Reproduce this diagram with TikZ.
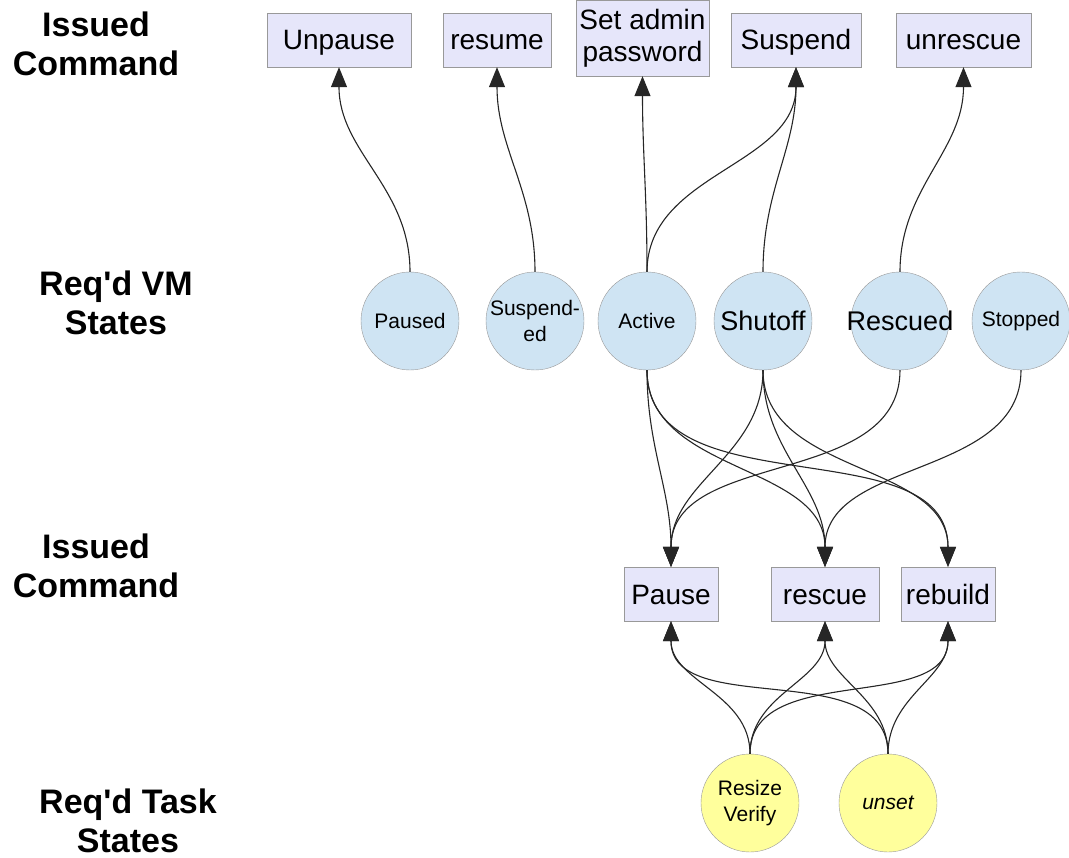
\documentclass[tikz,border=0pt]{standalone}
\usepackage{fontspec}
\setmainfont{Liberation Sans}
\usetikzlibrary{arrows.meta}
\definecolor{cmdfill}{HTML}{E6E6FA}
\definecolor{vmfill}{HTML}{CFE4F3}
\definecolor{taskfill}{HTML}{FFFF9C}
\definecolor{edgegray}{HTML}{999999}
\begin{document}
\begin{tikzpicture}[x=1pt,y=1pt,
  cmd/.style={draw=edgegray, fill=cmdfill, minimum height=54pt, inner sep=0pt, align=center, font=\fontsize{28}{32}\selectfont},
  cmdone/.style={cmd, text height=20pt, text depth=0pt},
  vm/.style={circle, draw=edgegray, fill=vmfill, minimum size=98pt, inner sep=-20pt, align=center, font=\fontsize{21}{26}\selectfont},
  task/.style={circle, draw=edgegray, fill=taskfill, minimum size=98pt, inner sep=-20pt, align=center, font=\fontsize{21}{26}\selectfont},
  lbl/.style={align=center, font=\bfseries\fontsize{34}{39}\selectfont},
  conn/.style={line width=1.1pt, draw=black!85, -{Triangle[width=16pt,length=20pt]}}
]
\useasboundingbox (0,0) rectangle (1069,-858);

% left labels
\node[lbl] (l1) at (96,-44) {Issued\\Command};
\node[lbl] (l2) at (116,-303) {Req\textquotesingle d VM\\States};
\node[lbl] (l3) at (96,-566) {Issued\\Command};
\node[lbl] (l4) at (128,-821) {Req\textquotesingle d Task\\States};

% top commands
\node[cmdone, minimum width=144pt] (unpause) at (339,-40) {Unpause};
\node[cmdone, minimum width=108pt] (resume) at (497,-40) {resume};
\node[cmd, minimum width=133pt, minimum height=76pt] (setpw) at (642.5,-38) {Set admin\\password};
\node[cmdone, minimum width=130pt] (suspend) at (796,-40) {Suspend};
\node[cmdone, minimum width=135pt] (unrescue) at (963.5,-40) {unrescue};

% VM states
\node[vm] (paused) at (410,-321) {Paused};
\node[vm] (suspended) at (535,-321) {Suspend-\\ed};
\node[vm] (active) at (647,-321) {Active};
\node[vm, font=\fontsize{27}{30}\selectfont] (shutoff) at (763,-321) {Shutoff};
\node[vm, font=\fontsize{27}{30}\selectfont] (rescued) at (900,-321) {Rescued};
\node[vm] (stopped) at (1021,-321) {Stopped};

% lower commands
\node[cmdone, minimum width=94pt] (pause) at (671,-594) {Pause};
\node[cmdone, minimum width=108pt] (rescue) at (825,-594) {rescue};
\node[cmdone, minimum width=94pt] (rebuild) at (948,-594) {rebuild};

% task states
\node[task] (resize) at (750,-803) {Resize\\Verify};
\node[task] (unset) at (888,-803) {\itshape unset};

% VM states -> top commands
\draw[conn] (paused.north) to[out=90,in=-90] (unpause.south);
\draw[conn] (suspended.north) to[out=90,in=-90] (resume.south);
\draw[conn] (active.north) to[out=90,in=-90] (setpw.south);
\draw[conn] (active.north) to[out=90,in=-90] (suspend.south);
\draw[conn] (shutoff.north) to[out=90,in=-90] (suspend.south);
\draw[conn] (rescued.north) to[out=90,in=-90] (unrescue.south);

% VM states -> lower commands
\draw[conn] (active.south) to[out=-90,in=90] (pause.north);
\draw[conn] (active.south) to[out=-90,in=90] (rescue.north);
\draw[conn] (active.south) to[out=-90,in=90] (rebuild.north);
\draw[conn] (shutoff.south) to[out=-90,in=90] (pause.north);
\draw[conn] (shutoff.south) to[out=-90,in=90] (rescue.north);
\draw[conn] (shutoff.south) to[out=-90,in=90] (rebuild.north);
\draw[conn] (rescued.south) to[out=-90,in=90] (pause.north);
\draw[conn] (stopped.south) to[out=-90,in=90] (rescue.north);

% task states -> lower commands
\draw[conn] (resize.north) to[out=90,in=-90] (pause.south);
\draw[conn] (resize.north) to[out=90,in=-90] (rescue.south);
\draw[conn] (resize.north) to[out=90,in=-90] (rebuild.south);
\draw[conn] (unset.north) to[out=90,in=-90] (pause.south);
\draw[conn] (unset.north) to[out=90,in=-90] (rescue.south);
\draw[conn] (unset.north) to[out=90,in=-90] (rebuild.south);
\end{tikzpicture}
\end{document}
